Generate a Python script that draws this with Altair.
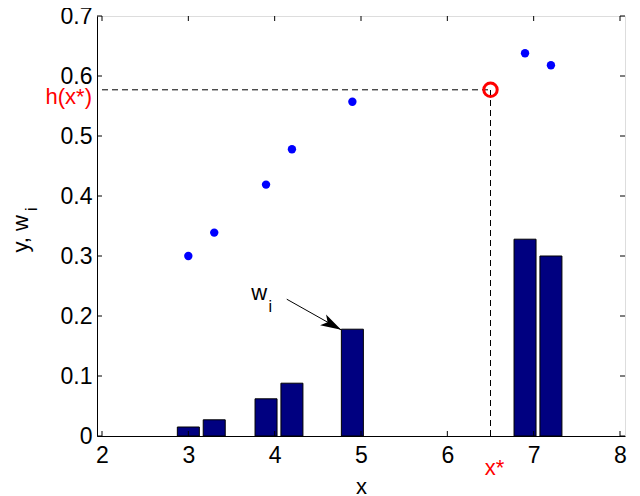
import math
import altair as alt
import pandas as pd

# ---- data ----
x_vals = [3.0, 3.3, 3.9, 4.2, 4.9, 6.9, 7.2]
y_vals = [0.300, 0.339, 0.419, 0.478, 0.557, 0.638, 0.618]
w_vals = [0.015, 0.027, 0.062, 0.088, 0.178, 0.328, 0.300]
x_ticks = [2, 3, 4, 5, 6, 7, 8]
y_ticks = [0.0, 0.1, 0.2, 0.3, 0.4, 0.5, 0.6, 0.7]
x_star = [6.5]
h_star = [0.577]
arrow_x = [4.14, 4.77]
arrow_y = [0.228, 0.177]
w_label_pos = [3.82, 0.2267]
i_label_pos = [3.95, 0.2067]
ytitle_y = [0.337]
ytitle_i_y = [0.378]

W, H = 528, 420
FONT = "Liberation Sans"
FS = 23

xs = alt.Scale(domain=[2, 8], nice=False, zero=False)
ys = alt.Scale(domain=[0, 0.7], nice=False, zero=False)

XAX = alt.Axis(
    values=x_ticks, format="d", title="x", grid=False, ticks=False, tickSize=0,
    labelFont=FONT, labelFontSize=FS, labelColor="black", labelPadding=8,
    titleFont=FONT, titleFontSize=22, titleFontWeight="normal", titleColor="black",
    titlePadding=9, domainColor="black", labelFlush=False)
YAX = alt.Axis(
    values=y_ticks, title=None, grid=False, ticks=False, tickSize=0,
    labelExpr="datum.value == 0 ? '0' : format(datum.value, '.1f')",
    labelFont=FONT, labelFontSize=FS, labelColor="black", labelPadding=5,
    domainColor="black", labelFlush=False)


def X(f):
    return alt.X(f, scale=xs, axis=XAX, title="x")


def Y(f):
    return alt.Y(f, scale=ys, axis=YAX, title=None)


pts = pd.DataFrame({"x": x_vals, "y": y_vals, "w": w_vals})

bars = alt.Chart(pts).mark_bar(
    size=22, color="#000080", stroke="black", strokeWidth=1, orient="vertical"
).encode(x=X("x:Q"), y=Y("w:Q"), y2=alt.datum(0))

dots = alt.Chart(pts).mark_circle(size=70, color="#0000FF", opacity=1).encode(
    x=X("x:Q"), y=Y("y:Q"))

star = pd.DataFrame({"x0": [2.0], "x": x_star, "y0": [0.0], "y": h_star})
hline = alt.Chart(star).mark_rule(color="black", strokeWidth=1, strokeDash=[6, 4]).encode(
    x=X("x0:Q"), x2="x:Q", y=Y("y:Q"))
vline = alt.Chart(star).mark_rule(color="black", strokeWidth=1, strokeDash=[6, 4]).encode(
    x=X("x:Q"), y=Y("y0:Q"), y2="y:Q")
ring = alt.Chart(star).mark_point(shape="circle", filled=False, size=180, stroke="#FF0000",
                                   strokeWidth=3, opacity=1).encode(x=X("x:Q"), y=Y("y:Q"))

hlab = alt.Chart(star).mark_text(text="h(x*)", color="#FF0000", font=FONT, fontSize=22,
                                  align="right", baseline="middle", dx=-5, dy=7).encode(
    x=alt.value(0), y=Y("y:Q"))
xlab = alt.Chart(star).mark_text(text="x*", color="#FF0000", font=FONT, fontSize=22,
                                  align="center", baseline="alphabetic", dx=4).encode(
    x=X("x:Q"), y=alt.value(H + 39))

# arrow
arr = pd.DataFrame({"x0": [arrow_x[0]], "y0": [arrow_y[0]], "x1": [arrow_x[1]], "y1": [arrow_y[1]]})
shaft = alt.Chart(arr).mark_rule(color="black", strokeWidth=1).encode(
    x=X("x0:Q"), y=Y("y0:Q"), x2="x1:Q", y2="y1:Q")
dxp = (arrow_x[1] - arrow_x[0]) * W / 6.0
dyp = (arrow_y[0] - arrow_y[1]) * H / 0.7
ang = 90 + math.degrees(math.atan2(dyp, dxp))
head = alt.Chart(arr).mark_point(shape="M0,0L0.3,1L0,0.75L-0.3,1Z", filled=True, color="black",
                                  opacity=1, size=1700, angle=ang, strokeWidth=0).encode(
    x=X("x1:Q"), y=Y("y1:Q"))

wl = pd.DataFrame({"x": [w_label_pos[0]], "y": [w_label_pos[1]]})
il = pd.DataFrame({"x": [i_label_pos[0]], "y": [i_label_pos[1]]})
wtext = alt.Chart(wl).mark_text(text="w", font=FONT, fontSize=22, color="black",
                                 align="center", baseline="alphabetic").encode(
    x=X("x:Q"), y=Y("y:Q"))
itext = alt.Chart(il).mark_text(text="i", font=FONT, fontSize=16, color="black",
                                 align="center", baseline="alphabetic").encode(
    x=X("x:Q"), y=Y("y:Q"))

# y title with subscript
yt = pd.DataFrame({"y": ytitle_y})
yti = pd.DataFrame({"y": ytitle_i_y})
ytitle = alt.Chart(yt).mark_text(text="y, w", font=FONT, fontSize=22, color="black", angle=270,
                                  align="center", baseline="alphabetic").encode(
    x=alt.value(-69), y=Y("y:Q"))
ytitle_i = alt.Chart(yti).mark_text(text="i", font=FONT, fontSize=16, color="black", angle=270,
                                     align="center", baseline="alphabetic").encode(
    x=alt.value(-60), y=Y("y:Q"))

# inward ticks on all four sides
xt = pd.DataFrame({"t": x_ticks})
ytk = pd.DataFrame({"t": y_ticks})
tb = alt.Chart(xt).mark_rule(color="black", strokeWidth=1).encode(
    x=X("t:Q"), y=alt.value(H), y2=alt.value(H - 5))
tt = alt.Chart(xt).mark_rule(color="black", strokeWidth=1).encode(
    x=X("t:Q"), y=alt.value(0), y2=alt.value(5))
tl = alt.Chart(ytk).mark_rule(color="black", strokeWidth=1).encode(
    y=Y("t:Q"), x=alt.value(0), x2=alt.value(5))
tr = alt.Chart(ytk).mark_rule(color="black", strokeWidth=1).encode(
    y=Y("t:Q"), x=alt.value(W), x2=alt.value(W - 5))

chart = alt.layer(
    bars, hline, vline, dots, ring, shaft, head, wtext, itext, hlab, xlab,
    ytitle, ytitle_i, tb, tt, tl, tr
).properties(
    width=W, height=H,
    autosize=alt.AutoSizeParams(type="none"),
    padding={"left": 89, "top": 8, "right": 7, "bottom": 60},
).configure_view(stroke="black", strokeWidth=1).configure(background="white")

chart.save("out.html", embed_options={"renderer": "svg", "actions": False})
